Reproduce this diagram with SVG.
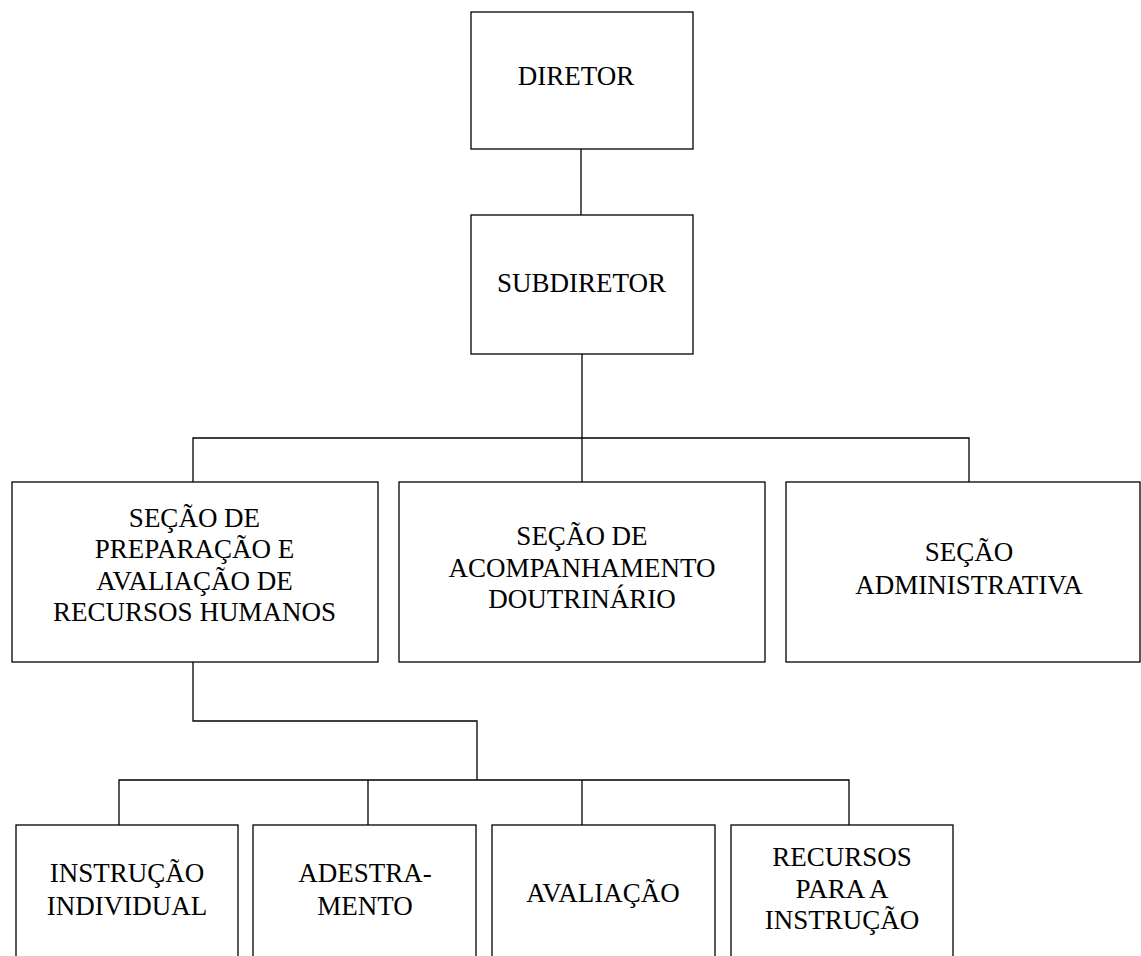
<svg xmlns="http://www.w3.org/2000/svg" width="1141" height="956" viewBox="0 0 1141 956">
<style>
.box{fill:#fff;stroke:#000;stroke-width:1.3}
.ln{fill:none;stroke:#000;stroke-width:1.3}
text{font-family:"Liberation Serif","Times New Roman",serif;font-size:27px;fill:#000;text-anchor:middle}
</style>
<rect width="1141" height="956" fill="#fff"/>
<g id="connectors">
<line class="ln" x1="581" y1="149" x2="581" y2="215"/>
<line class="ln" x1="582" y1="354" x2="582" y2="482"/>
<polyline class="ln" points="193,482 193,438 969,438 969,482"/>
<polyline class="ln" points="193,662 193,721 477,721 477,780"/>
<polyline class="ln" points="119,825 119,780 849,780 849,825"/>
<line class="ln" x1="368" y1="780" x2="368" y2="825"/>
<line class="ln" x1="582" y1="780" x2="582" y2="825"/>
</g>
<g id="diretor">
<rect class="box" x="471" y="12" width="222" height="137"/>
<text x="576" y="85">DIRETOR</text>
</g>
<g id="subdiretor">
<rect class="box" x="471" y="215" width="222" height="139"/>
<text x="581.5" y="292">SUBDIRETOR</text>
</g>
<g id="secao-preparacao">
<rect class="box" x="12" y="482" width="366" height="180"/>
<text x="194.5" y="527">SEÇÃO DE</text>
<text x="194.5" y="558">PREPARAÇÃO E</text>
<text x="194.5" y="590">AVALIAÇÃO DE</text>
<text x="194.5" y="621">RECURSOS HUMANOS</text>
</g>
<g id="secao-acompanhamento">
<rect class="box" x="399" y="482" width="366" height="180"/>
<text x="582" y="545">SEÇÃO DE</text>
<text x="582" y="577">ACOMPANHAMENTO</text>
<text x="582" y="608">DOUTRINÁRIO</text>
</g>
<g id="secao-administrativa">
<rect class="box" x="786" y="482" width="354" height="180"/>
<text x="969" y="561">SEÇÃO</text>
<text x="969" y="594">ADMINISTRATIVA</text>
</g>
<g id="instrucao-individual">
<rect class="box" x="16" y="825" width="222" height="150"/>
<text x="127" y="882">INSTRUÇÃO</text>
<text x="127" y="915">INDIVIDUAL</text>
</g>
<g id="adestramento">
<rect class="box" x="253" y="825" width="223" height="150"/>
<text x="365" y="882">ADESTRA-</text>
<text x="365" y="915">MENTO</text>
</g>
<g id="avaliacao">
<rect class="box" x="492" y="825" width="223" height="150"/>
<text x="603" y="902">AVALIAÇÃO</text>
</g>
<g id="recursos-instrucao">
<rect class="box" x="731" y="825" width="222" height="150"/>
<text x="842" y="866">RECURSOS</text>
<text x="842" y="898">PARA A</text>
<text x="842" y="929">INSTRUÇÃO</text>
</g>
</svg>
